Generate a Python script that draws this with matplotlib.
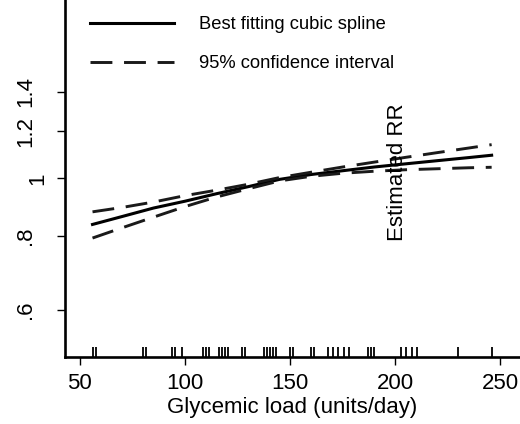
import numpy as np
import matplotlib
matplotlib.use("Agg")
import matplotlib.pyplot as plt
from matplotlib.ticker import FixedLocator, FixedFormatter, NullLocator
import matplotlib.transforms as mtransforms

plt.rcParams['font.family'] = ['Liberation Sans', 'DejaVu Sans']

# spline estimate and 95% CI
gl = [56, 70, 85, 100, 115, 130, 145, 160, 175, 190, 205, 220, 235, 246]
rr_fit = [0.836, 0.862, 0.891, 0.915, 0.942, 0.968, 0.996, 1.015, 1.030, 1.045, 1.058, 1.071, 1.084, 1.094]
rr_lo = [0.793, 0.825, 0.860, 0.896, 0.930, 0.960, 0.990, 1.008, 1.020, 1.028, 1.034, 1.038, 1.042, 1.044]
rr_hi = [0.878, 0.893, 0.912, 0.935, 0.955, 0.977, 1.003, 1.024, 1.045, 1.065, 1.085, 1.105, 1.125, 1.140]

# observed glycemic load values (rug)
rug = [56, 57.5, 80, 81.5, 94, 95.5, 98.5, 108.5, 110, 111.5, 116, 117.5, 119, 120.5,
       127, 128.7, 137.5, 139, 140.5, 142, 143.5, 150, 151.5, 160, 161.5, 168, 170.5,
       173, 175.5, 178, 187, 188.5, 190, 203, 205, 208, 210.5, 230, 246]

yticks = [0.6, 0.8, 1.0, 1.2, 1.4]
ytick_labels = ['.6', '.8', '1', '1.2', '1.4']
xticks = [50, 100, 150, 200, 250]

fig = plt.figure(figsize=(5.2, 4.24), dpi=100)
ax = fig.add_axes([0.125, 0.1587, 0.875, 0.8413])

ax.plot(gl, rr_fit, color='black', lw=2.2, label='Best fitting cubic spline')
ax.plot(gl, rr_lo, color='#1a1a1a', lw=2.1, dashes=(7.5, 4), label='95% confidence interval')
ax.plot(gl, rr_hi, color='#1a1a1a', lw=2.1, dashes=(7.5, 4))

trans = mtransforms.blended_transform_factory(ax.transData, ax.transAxes)
ax.vlines(rug, 0, 0.026, transform=trans, color='black', lw=1.3)

ax.set_yscale('log')
ax.set_ylim(0.5, 2.0)
ax.set_xlim(42.9, 259.5)
ax.yaxis.set_major_locator(FixedLocator(yticks))
ax.yaxis.set_major_formatter(FixedFormatter(ytick_labels))
ax.yaxis.set_minor_locator(NullLocator())
ax.set_xticks(xticks)

for s in ['top', 'right']:
    ax.spines[s].set_visible(False)
for s in ['left', 'bottom']:
    ax.spines[s].set_linewidth(1.9)

ax.tick_params(axis='both', direction='out', length=6, width=1, labelsize=16)
ax.tick_params(axis='x', pad=6)
ax.tick_params(axis='y', labelrotation=90, pad=15)
for t in ax.get_yticklabels():
    t.set_va('center')
    if t.get_text() == '1':
        # the "1" label sits further right in the original
        t.set_transform(t.get_transform() + mtransforms.ScaledTranslation(12 / 100, 0, fig.dpi_scale_trans))

ax.set_xlabel('Glycemic load (units/day)', fontsize=16, labelpad=2)
ax.text(0.73, 0.518, 'Estimated RR', transform=ax.transAxes, rotation=90,
        ha='center', va='center', fontsize=16)

ax.legend(loc='upper left', bbox_to_anchor=(0.055, 0.955), frameon=False,
          fontsize=13.2, handlelength=4.6, handletextpad=1.35, labelspacing=1.2,
          borderpad=0, borderaxespad=0)

fig.savefig('out.png', dpi=100)
